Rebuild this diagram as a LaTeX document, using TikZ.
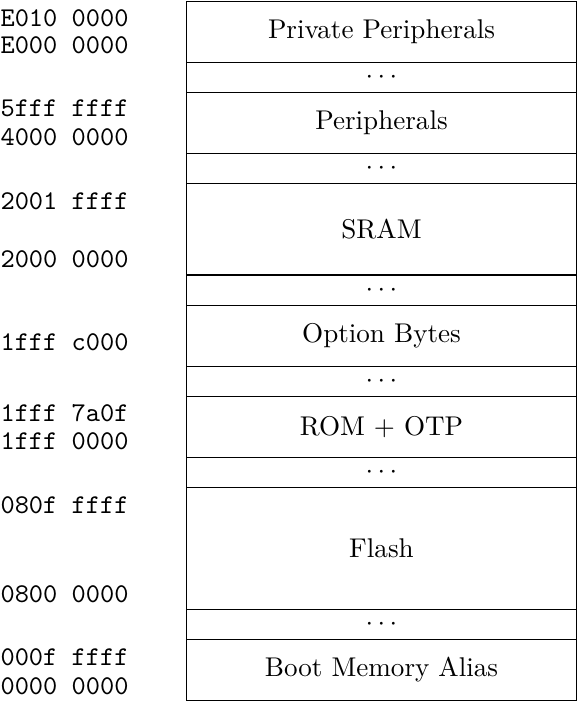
\documentclass[tikz,border=0pt]{standalone}
\begin{document}
\begin{tikzpicture}[x=0.369pt,y=-0.369pt,
  region/.style={draw, line width=0.4pt, minimum width=143.91pt, inner sep=0pt, anchor=north},
  addr/.style={anchor=west, inner sep=0pt, font=\ttfamily}]
\useasboundingbox (0,0) rectangle (578,702);
% memory regions, top to bottom (one unit = 11.214pt)
\node[region, minimum height=22.428pt] (pp)    at (381.5,1)     {Private Peripherals};
\node[region, minimum height=11.214pt] (gap1)  at (381.5,61.8)  {$\cdots$};
\node[region, minimum height=22.428pt] (per)   at (381.5,92.2)  {Peripherals};
\node[region, minimum height=11.214pt] (gap2)  at (381.5,153.0) {$\cdots$};
\node[region, minimum height=33.642pt] (sram)  at (381.5,183.3) {SRAM};
\node[region, minimum height=11.214pt] (gap3)  at (381.5,274.5) {$\cdots$};
\node[region, minimum height=22.428pt] (opt)   at (381.5,304.9) {Option Bytes};
\node[region, minimum height=11.214pt] (gap4)  at (381.5,365.6) {$\cdots$};
\node[region, minimum height=22.428pt] (rom)   at (381.5,396.0) {ROM + OTP};
\node[region, minimum height=11.214pt] (gap5)  at (381.5,456.8) {$\cdots$};
\node[region, minimum height=44.856pt] (flash) at (381.5,487.2) {Flash};
\node[region, minimum height=11.214pt] (gap6)  at (381.5,608.7) {$\cdots$};
\node[region, minimum height=22.428pt] (boot)  at (381.5,639.1) {Boot Memory Alias};
% address labels
\node[addr] (a1)  at (0,18)  {E010 0000};
\node[addr] (a2)  at (0,45)  {E000 0000};
\node[addr] (a3)  at (0,108) {5fff ffff};
\node[addr] (a4)  at (0,137) {4000 0000};
\node[addr] (a5)  at (0,201) {2001 ffff};
\node[addr] (a6)  at (0,259) {2000 0000};
\node[addr] (a7)  at (0,342) {1fff c000};
\node[addr] (a8)  at (0,413) {1fff 7a0f};
\node[addr] (a9)  at (0,441) {1fff 0000};
\node[addr] (a10) at (0,505) {080f ffff};
\node[addr] (a11) at (0,594) {0800 0000};
\node[addr] (a12) at (0,657) {000f ffff};
\node[addr] (a13) at (0,686) {0000 0000};
\end{tikzpicture}
\end{document}
